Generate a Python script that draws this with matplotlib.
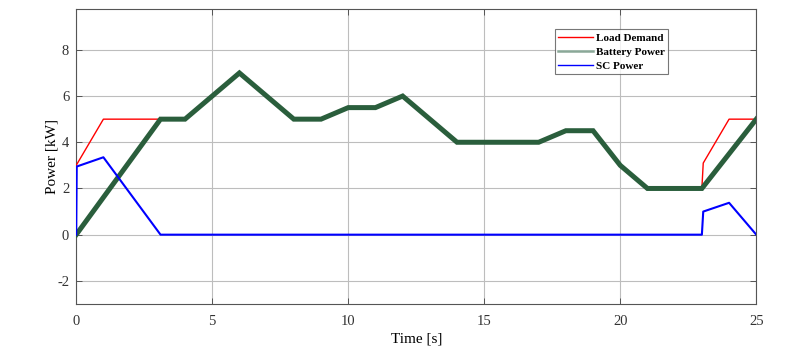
import matplotlib
matplotlib.use("Agg")
import matplotlib.pyplot as plt
from matplotlib.lines import Line2D

plt.rcParams['font.family'] = ['Liberation Serif', 'DejaVu Serif']
plt.rcParams['axes.unicode_minus'] = False

load_t = [0, 1, 3.1, 4, 6, 8, 9, 10, 11, 12, 14, 17, 18, 19, 20, 21, 23, 23.05, 24, 25]
load_p = [3, 5, 5, 5, 7, 5, 5, 5.5, 5.5, 6, 4, 4, 4.5, 4.5, 3, 2, 2, 3.1, 5, 5]

batt_t = [0, 3.1, 4, 6, 8, 9, 10, 11, 12, 14, 17, 18, 19, 20, 21, 23, 25]
batt_p = [0, 5, 5, 7, 5, 5, 5.5, 5.5, 6, 4, 4, 4.5, 4.5, 3, 2, 2, 5]

sc_t = [0, 0.02, 1, 3.1, 23, 23.05, 24, 25]
sc_p = [0, 2.95, 3.35, 0, 0, 1.0, 1.38, 0]

x_ticks = [0, 5, 10, 15, 20, 25]
y_ticks = [-2, 0, 2, 4, 6, 8]

fig = plt.figure(figsize=(8.02, 3.49), dpi=100)
ax = fig.add_axes([0.095, 0.129, 0.848, 0.844])

ax.plot(load_t, load_p, color='#ff0000', lw=1.0, zorder=3)
ax.plot(batt_t, batt_p, color='#2a5e3c', lw=3.6, zorder=4, solid_joinstyle='miter')
ax.plot(sc_t, sc_p, color='#0000ff', lw=1.5, zorder=5)

ax.set_xlim(0, 25)
ax.set_ylim(-3, 9.75)
ax.set_xticks(x_ticks)
ax.set_yticks(y_ticks)
ax.grid(True, color='#bdbdbd', lw=0.8)
ax.set_axisbelow(True)
ax.tick_params(direction='in', top=True, right=True, labelsize=10.5, colors='#444444',
               length=4, width=0.6, labelcolor='#333333')
ax.tick_params(axis='x', pad=8)
ax.tick_params(axis='y', pad=5)
for s in ax.spines.values():
    s.set_color('#555555')
    s.set_linewidth(0.8)

ax.set_xlabel('Time [s]', fontsize=11, labelpad=3)
ax.set_ylabel('Power [kW]', fontsize=11, labelpad=-1)

handles = [Line2D([], [], color='#ff0000', lw=1.0),
           Line2D([], [], color='#8aa898', lw=1.8),
           Line2D([], [], color='#0000ff', lw=1.0)]
leg = ax.legend(handles, ['Load Demand', 'Battery Power', 'SC Power'],
                loc='upper left', bbox_to_anchor=(0.704, 0.932),
                prop={'weight': 'bold', 'size': 8}, frameon=True, fancybox=False,
                edgecolor='#555555', handlelength=3.1, handletextpad=0.25,
                borderpad=0.3, labelspacing=0.38, borderaxespad=0)
leg.get_frame().set_linewidth(0.8)

fig.savefig('out.png', dpi=100)
